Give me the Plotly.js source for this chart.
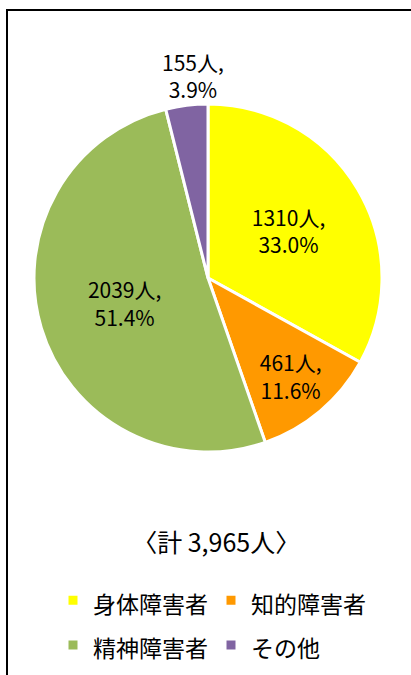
<!DOCTYPE html>
<html>
<head>
<meta charset="utf-8">
<script src="https://cdn.plot.ly/plotly-3.0.1.min.js"></script>
<style>
  html, body { margin: 0; padding: 0; background: #fff; }
  #wrap { position: relative; width: 411px; height: 675px; overflow: hidden; }
  #chart { position: absolute; left: 0; top: 0; width: 411px; height: 675px; }
  #frame { position: absolute; left: 6px; top: 9px; width: 420px; height: 700px;
           border-left: 2px solid #000; border-top: 2px solid #000; pointer-events: none; }
</style>
</head>
<body>
<div id="wrap">
  <div id="chart"></div>
  <div id="frame"></div>
</div>
<script>
const categories = ['身体障害者', '知的障害者', '精神障害者', 'その他'];
const counts = [1310, 461, 2039, 155];
const percents = ['33.0%', '11.6%', '51.4%', '3.9%'];
const colors = ['#FFFF00', '#FF9900', '#9BBB59', '#8064A2'];
const totalLabel = '〈計 3,965人〉';

const FONT = 'Noto Sans CJK JP, Noto Sans, sans-serif';
const W = 411, H = 675;
const DOMX = [34 / W, 382 / W], DOMY = [1 - 452 / H, 1 - 104 / H];

const texts = counts.map((c, i) => c + '人,<br>' + percents[i]);
const legendLabels = categories.map(c => '<span style="font-size:23px">' + c + '</span>');

// slice labels: the small last slice gets its label above the pie, placed at its mid-angle
const total = counts.reduce((a, b) => a + b, 0);
const midFrac = (counts.slice(0, 3).reduce((a, b) => a + b, 0) + counts[3] / 2) / total;
const ang = 2 * Math.PI * midFrac;              // clockwise from 12 o'clock
const cxp = (DOMX[0] + DOMX[1]) / 2, cyp = (DOMY[0] + DOMY[1]) / 2;
const rpx = (DOMX[1] - DOMX[0]) * W / 2;
const rLab = rpx * 1.17;
const annX = cxp + (rLab * Math.sin(ang)) / W + 10 / W;
const annY = cyp + (rLab * Math.cos(ang)) / H;

const trace = {
  type: 'pie',
  labels: legendLabels,
  values: counts,
  text: texts,
  textinfo: 'text',
  hoverinfo: 'label+value+percent',
  sort: false,
  direction: 'clockwise',
  rotation: 0,
  marker: { colors: colors, line: { color: '#FFFFFF', width: 3 } },
  textposition: ['inside', 'inside', 'inside', 'none'],
  insidetextorientation: 'horizontal',
  textfont: { family: FONT, size: 21, color: '#000' },
  insidetextfont: { family: FONT, size: 21, color: '#000' },
  domain: { x: DOMX, y: DOMY },
  automargin: false
};

const layout = {
  width: W,
  height: H,
  margin: { l: 0, r: 0, t: 0, b: 0 },
  paper_bgcolor: '#FFFFFF',
  font: { family: FONT, color: '#000' },
  title: {
    text: totalLabel,
    font: { family: FONT, size: 25, color: '#000' },
    x: 0.526, xanchor: 'center',
    y: 1 - 543 / H, yanchor: 'middle',
    xref: 'paper', yref: 'paper'
  },
  annotations: [{
    text: texts[3],
    xref: 'paper', yref: 'paper',
    x: annX, y: annY,
    xanchor: 'center', yanchor: 'middle',
    showarrow: false,
    font: { family: FONT, size: 21, color: '#000' }
  }],
  showlegend: true,
  legend: {
    orientation: 'h',
    x: 53 / W, xanchor: 'left',
    y: 1 - 573 / H, yanchor: 'top',
    font: { family: FONT, size: 32, color: '#000' },
    entrywidth: 113,
    entrywidthmode: 'pixels',
    traceorder: 'normal',
    itemwidth: 30
  }
};

Plotly.newPlot('chart', [trace], layout, { displayModeBar: false, staticPlot: true });
</script>
</body>
</html>
